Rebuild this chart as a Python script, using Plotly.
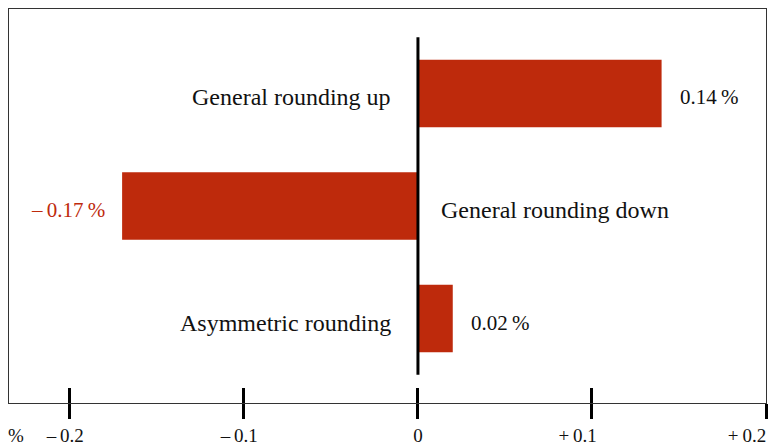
import plotly.graph_objects as go

categories = ["General rounding up", "General rounding down", "Asymmetric rounding"]
values = [0.14, -0.17, 0.02]
value_labels = ["0.14\u2009%", "\u2013\u20090.17\u2009%", "0.02\u2009%"]
tick_vals = [-0.2, -0.1, 0, 0.1, 0.2]
tick_text = ["\u2013\u20090.2\u2002", "\u2013\u20090.1\u2002", "0", "+\u20090.1\u2003\u2002",
             "+\u20090.2\u2003\u2003"]

BAR = "#BE2A0C"
FONT = "Liberation Serif"

fig = go.Figure()
fig.add_trace(go.Bar(
    x=values, y=categories, orientation="h",
    marker=dict(color=BAR, line=dict(width=0)),
    width=0.6, hoverinfo="skip", showlegend=False,
))

annotations = []
for cat, v, lab in zip(categories, values, value_labels):
    if v >= 0:
        annotations.append(dict(x=0, y=cat, xref="x", yref="y", text=cat, showarrow=False,
                                xanchor="right", xshift=-25, yshift=-4, font=dict(size=24, color="#111")))
        annotations.append(dict(x=v, y=cat, xref="x", yref="y", text=lab, showarrow=False,
                                xanchor="left", xshift=16, yshift=-4, font=dict(size=21, color="#111")))
    else:
        annotations.append(dict(x=0, y=cat, xref="x", yref="y", text=cat, showarrow=False,
                                xanchor="left", xshift=21, yshift=-4, font=dict(size=24, color="#111")))
        annotations.append(dict(x=v, y=cat, xref="x", yref="y", text=lab, showarrow=False,
                                xanchor="right", xshift=-15, yshift=-4, font=dict(size=21, color=BAR)))
annotations.append(dict(x=0, y=0, xref="paper", yref="paper", text="%", showarrow=False,
                        xanchor="center", yanchor="top", xshift=7, yshift=-20,
                        font=dict(size=19, color="#111")))

fig.update_layout(
    width=769, height=445,
    margin=dict(l=9, r=3, t=9, b=42, autoexpand=False),
    paper_bgcolor="white", plot_bgcolor="white",
    font=dict(family=FONT, size=19, color="#111"),
    annotations=annotations,
    bargap=0.4,
    xaxis=dict(range=[-0.235, 0.2], tickvals=tick_vals, ticktext=tick_text,
               ticks="outside", ticklen=15, tickwidth=2.5, tickcolor="black",
               automargin=False, ticklabeloverflow="allow",
               showgrid=False, zeroline=False, showline=True, linecolor="#333",
               linewidth=1.2, mirror=True, tickfont=dict(size=19, family=FONT, color="#111")),
    xaxis2=dict(range=[-0.235, 0.2], tickvals=tick_vals, overlaying="x", side="bottom",
                ticks="inside", ticklen=15, tickwidth=2.5, tickcolor="black", automargin=False,
                showticklabels=False, showgrid=False, zeroline=False, showline=False),
    yaxis=dict(range=[2.75, -0.75], showticklabels=False, ticks="", showgrid=False,
               automargin=False,
               zeroline=False, showline=True, linecolor="#333", linewidth=1.2, mirror=True),
    shapes=[dict(type="line", xref="x", yref="y", x0=0, x1=0, y0=-0.5, y1=2.5,
                 line=dict(color="black", width=3))],
)
fig.add_trace(go.Scatter(x=[None], y=[None], xaxis="x2", showlegend=False, hoverinfo="skip"))

fig.write_html("out.html", config={"displayModeBar": False},
               post_script="document.body.style.margin='0';document.body.style.overflow='hidden';")
